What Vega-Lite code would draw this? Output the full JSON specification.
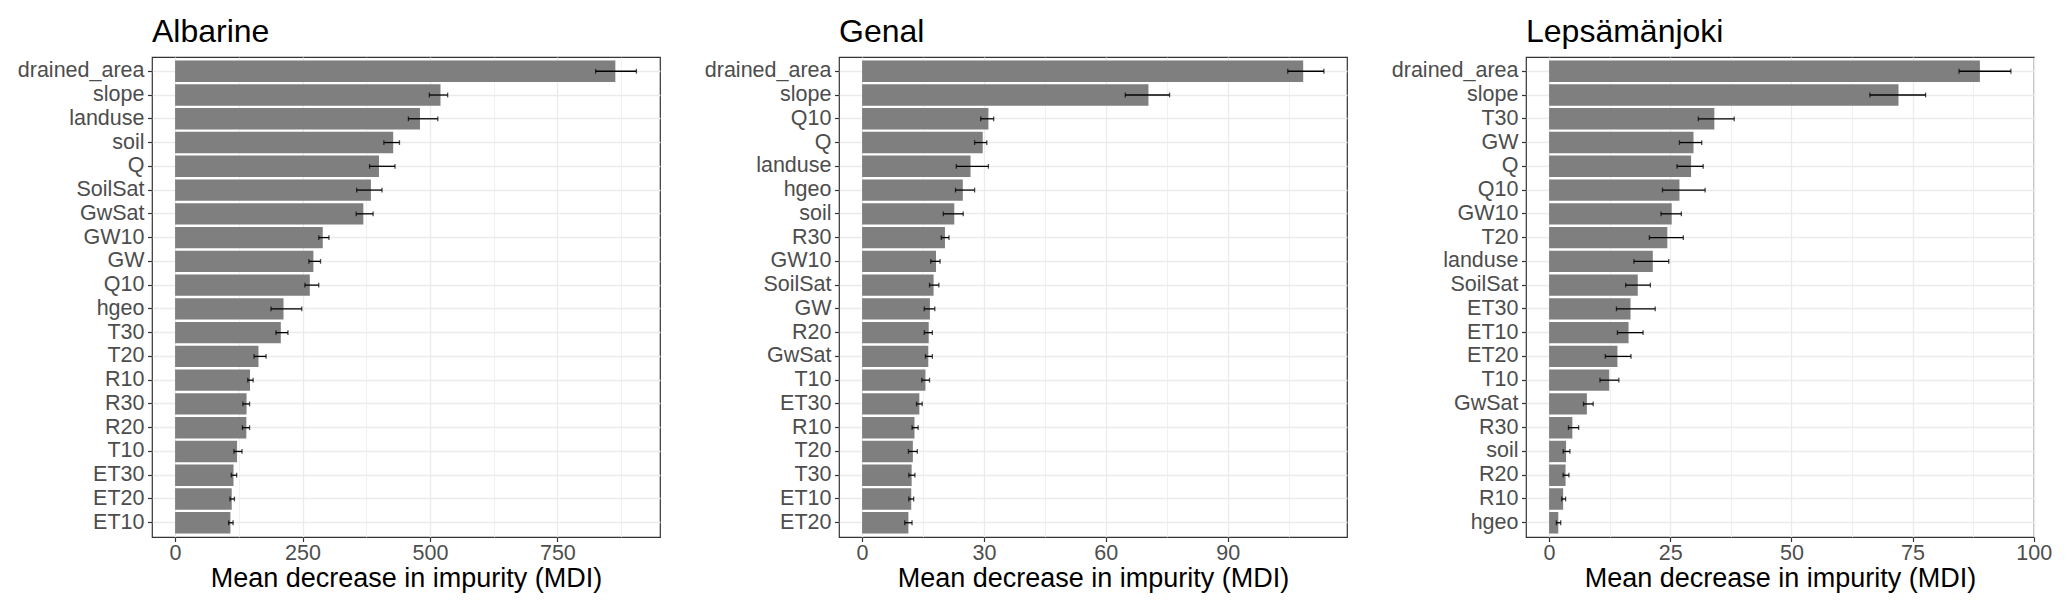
{
  "$schema": "https://vega.github.io/schema/vega-lite/v6.json",
  "background": "white",
  "padding": {"left": 16, "top": 15, "right": 5, "bottom": 5},
  "config": {
    "font": "Liberation Sans",
    "view": {"stroke": "#333333", "strokeWidth": 1.2},
    "axisY": {"title": null, "grid": true, "gridColor": "#EBEBEB", "gridWidth": 1.3, "bandPosition": 0.5, "domain": false, "tickColor": "#333333", "tickSize": 4.5, "tickWidth": 1.2, "labelColor": "#4D4D4D", "labelFontSize": 21.5, "labelPadding": 3.5, "labelLimit": 300},
    "axisX": {"grid": true, "gridColor": "#EBEBEB", "domain": false, "tickColor": "#333333", "tickSize": 4.5, "tickWidth": 1.2, "labelColor": "#4D4D4D", "labelFontSize": 21.5, "labelPadding": 1.3, "titleFontSize": 27, "titleFontWeight": "normal", "titleColor": "black", "titlePadding": 1, "labelOverlap": false, "labelFlush": false},
    "title": {"anchor": "start", "frame": "group", "fontSize": 32, "fontWeight": "normal", "color": "black", "baseline": "alphabetic", "offset": 8}
  },
  "datasets": {
    "mdi": [
      {"site": "Albarine", "var": "drained_area", "mdi": 863.7, "lo": 825, "hi": 905},
      {"site": "Albarine", "var": "slope", "mdi": 520.7, "lo": 498.8, "hi": 534.7},
      {"site": "Albarine", "var": "landuse", "mdi": 480.4, "lo": 457.7, "hi": 515.4},
      {"site": "Albarine", "var": "soil", "mdi": 427.9, "lo": 409.6, "hi": 440.2},
      {"site": "Albarine", "var": "Q", "mdi": 400, "lo": 381.5, "hi": 431.4},
      {"site": "Albarine", "var": "SoilSat", "mdi": 384.2, "lo": 356.2, "hi": 406},
      {"site": "Albarine", "var": "GwSat", "mdi": 369.3, "lo": 355.3, "hi": 388.5},
      {"site": "Albarine", "var": "GW10", "mdi": 289.7, "lo": 281.8, "hi": 301.9},
      {"site": "Albarine", "var": "GW", "mdi": 271.3, "lo": 262.5, "hi": 285.3},
      {"site": "Albarine", "var": "Q10", "mdi": 264.3, "lo": 254.7, "hi": 281.8},
      {"site": "Albarine", "var": "hgeo", "mdi": 212.7, "lo": 188.1, "hi": 248.5},
      {"site": "Albarine", "var": "T30", "mdi": 207.4, "lo": 197.8, "hi": 221.4},
      {"site": "Albarine", "var": "T20", "mdi": 163.6, "lo": 154.9, "hi": 178.5},
      {"site": "Albarine", "var": "R10", "mdi": 147, "lo": 142.6, "hi": 153.1},
      {"site": "Albarine", "var": "R30", "mdi": 140.2, "lo": 133, "hi": 146.1},
      {"site": "Albarine", "var": "R20", "mdi": 139.8, "lo": 132.1, "hi": 146.1},
      {"site": "Albarine", "var": "T10", "mdi": 121.6, "lo": 115.5, "hi": 131.3},
      {"site": "Albarine", "var": "ET30", "mdi": 114.6, "lo": 110.3, "hi": 120.8},
      {"site": "Albarine", "var": "ET20", "mdi": 111.1, "lo": 107.6, "hi": 116.4},
      {"site": "Albarine", "var": "ET10", "mdi": 108.5, "lo": 105, "hi": 113.8},
      {"site": "Genal", "var": "drained_area", "mdi": 108.6, "lo": 104.8, "hi": 113.7},
      {"site": "Genal", "var": "slope", "mdi": 70.5, "lo": 64.8, "hi": 75.7},
      {"site": "Genal", "var": "Q10", "mdi": 31.1, "lo": 29.2, "hi": 32.4},
      {"site": "Genal", "var": "Q", "mdi": 29.7, "lo": 27.7, "hi": 30.7},
      {"site": "Genal", "var": "landuse", "mdi": 26.7, "lo": 23.2, "hi": 31.1},
      {"site": "Genal", "var": "hgeo", "mdi": 24.8, "lo": 23, "hi": 27.7},
      {"site": "Genal", "var": "soil", "mdi": 22.7, "lo": 20, "hi": 24.9},
      {"site": "Genal", "var": "R30", "mdi": 20.4, "lo": 19.5, "hi": 21.4},
      {"site": "Genal", "var": "GW10", "mdi": 18.2, "lo": 16.9, "hi": 19.2},
      {"site": "Genal", "var": "SoilSat", "mdi": 17.6, "lo": 16.6, "hi": 18.9},
      {"site": "Genal", "var": "GW", "mdi": 16.7, "lo": 15.3, "hi": 17.9},
      {"site": "Genal", "var": "R20", "mdi": 16.4, "lo": 15.3, "hi": 17.3},
      {"site": "Genal", "var": "GwSat", "mdi": 16.3, "lo": 15.6, "hi": 17.3},
      {"site": "Genal", "var": "T10", "mdi": 15.6, "lo": 14.7, "hi": 16.6},
      {"site": "Genal", "var": "ET30", "mdi": 14.1, "lo": 13.4, "hi": 14.8},
      {"site": "Genal", "var": "R10", "mdi": 12.9, "lo": 12.3, "hi": 13.8},
      {"site": "Genal", "var": "T20", "mdi": 12.5, "lo": 11.4, "hi": 13.6},
      {"site": "Genal", "var": "T30", "mdi": 12.2, "lo": 11.5, "hi": 13},
      {"site": "Genal", "var": "ET10", "mdi": 12.1, "lo": 11.5, "hi": 12.7},
      {"site": "Genal", "var": "ET20", "mdi": 11.4, "lo": 10.5, "hi": 12.3},
      {"site": "Lepsämänjoki", "var": "drained_area", "mdi": 88.9, "lo": 84.6, "hi": 95.3},
      {"site": "Lepsämänjoki", "var": "slope", "mdi": 72.1, "lo": 66.2, "hi": 77.7},
      {"site": "Lepsämänjoki", "var": "T30", "mdi": 34.1, "lo": 30.8, "hi": 38.2},
      {"site": "Lepsämänjoki", "var": "GW", "mdi": 29.8, "lo": 26.9, "hi": 31.5},
      {"site": "Lepsämänjoki", "var": "Q", "mdi": 29.3, "lo": 26.4, "hi": 31.8},
      {"site": "Lepsämänjoki", "var": "Q10", "mdi": 26.9, "lo": 23.4, "hi": 32.2},
      {"site": "Lepsämänjoki", "var": "GW10", "mdi": 25.3, "lo": 23.1, "hi": 27.3},
      {"site": "Lepsämänjoki", "var": "T20", "mdi": 24.4, "lo": 20.7, "hi": 27.7},
      {"site": "Lepsämänjoki", "var": "landuse", "mdi": 21.4, "lo": 17.5, "hi": 24.7},
      {"site": "Lepsämänjoki", "var": "SoilSat", "mdi": 18.3, "lo": 15.8, "hi": 20.9},
      {"site": "Lepsämänjoki", "var": "ET30", "mdi": 16.8, "lo": 13.9, "hi": 21.9},
      {"site": "Lepsämänjoki", "var": "ET10", "mdi": 16.4, "lo": 14.1, "hi": 19.4},
      {"site": "Lepsämänjoki", "var": "ET20", "mdi": 14.1, "lo": 11.6, "hi": 16.9},
      {"site": "Lepsämänjoki", "var": "T10", "mdi": 12.4, "lo": 10.5, "hi": 14.4},
      {"site": "Lepsämänjoki", "var": "GwSat", "mdi": 7.8, "lo": 7.1, "hi": 9.1},
      {"site": "Lepsämänjoki", "var": "R30", "mdi": 4.8, "lo": 4, "hi": 6.1},
      {"site": "Lepsämänjoki", "var": "soil", "mdi": 3.5, "lo": 2.9, "hi": 4.3},
      {"site": "Lepsämänjoki", "var": "R20", "mdi": 3.4, "lo": 2.9, "hi": 4.1},
      {"site": "Lepsämänjoki", "var": "R10", "mdi": 2.9, "lo": 2.6, "hi": 3.4},
      {"site": "Lepsämänjoki", "var": "hgeo", "mdi": 1.9, "lo": 1.5, "hi": 2.4}
    ]
  },
  "spacing": 179,
  "bounds": "flush",
  "hconcat": [
    {
      "width": 508, "height": 480,
      "title": {"text": "Albarine"},
      "data": {"name": "mdi"},
      "transform": [{"filter": "datum.site === 'Albarine'"}],
      "encoding": {
        "y": {"field": "var", "type": "nominal", "sort": {"field": "mdi", "op": "max", "order": "descending"}, "scale": {"paddingInner": 0.1, "paddingOuter": 0.15}}
      },
      "layer": [
        {"mark": {"type": "bar", "color": "#7f7f7f"},
         "encoding": {"x": {"field": "mdi", "type": "quantitative", "title": "Mean decrease in impurity (MDI)",
           "scale": {"domain": [-45.3, 951.3], "nice": false, "zero": false},
           "axis": {"values": [0, 125, 250, 375, 500, 625, 750, 875],
             "gridWidth": {"condition": {"test": "datum.value % 250 !== 0", "value": 0.7}, "value": 1.3},
             "tickOpacity": {"condition": {"test": "datum.value % 250 !== 0", "value": 0}, "value": 1},
             "labelExpr": "datum.value % 250 === 0 ? datum.label : ''"}}}},
        {"mark": {"type": "rule", "color": "black", "strokeWidth": 1.3},
         "encoding": {"x": {"field": "lo", "type": "quantitative", "title": "Mean decrease in impurity (MDI)"}, "x2": {"field": "hi"}}},
        {"mark": {"type": "tick", "color": "black", "thickness": 1.3, "size": 4.8},
         "encoding": {"x": {"field": "lo", "type": "quantitative", "title": "Mean decrease in impurity (MDI)"}}},
        {"mark": {"type": "tick", "color": "black", "thickness": 1.3, "size": 4.8},
         "encoding": {"x": {"field": "hi", "type": "quantitative", "title": "Mean decrease in impurity (MDI)"}}}
      ]
    },
    {
      "width": 508, "height": 480,
      "title": {"text": "Genal"},
      "data": {"name": "mdi"},
      "transform": [{"filter": "datum.site === 'Genal'"}],
      "encoding": {
        "y": {"field": "var", "type": "nominal", "sort": {"field": "mdi", "op": "max", "order": "descending"}, "scale": {"paddingInner": 0.1, "paddingOuter": 0.15}}
      },
      "layer": [
        {"mark": {"type": "bar", "color": "#7f7f7f"},
         "encoding": {"x": {"field": "mdi", "type": "quantitative", "title": "Mean decrease in impurity (MDI)",
           "scale": {"domain": [-5.685, 119.385], "nice": false, "zero": false},
           "axis": {"values": [0, 15, 30, 45, 60, 75, 90, 105],
             "gridWidth": {"condition": {"test": "datum.value % 30 !== 0", "value": 0.7}, "value": 1.3},
             "tickOpacity": {"condition": {"test": "datum.value % 30 !== 0", "value": 0}, "value": 1},
             "labelExpr": "datum.value % 30 === 0 ? datum.label : ''"}}}},
        {"mark": {"type": "rule", "color": "black", "strokeWidth": 1.3},
         "encoding": {"x": {"field": "lo", "type": "quantitative", "title": "Mean decrease in impurity (MDI)"}, "x2": {"field": "hi"}}},
        {"mark": {"type": "tick", "color": "black", "thickness": 1.3, "size": 4.8},
         "encoding": {"x": {"field": "lo", "type": "quantitative", "title": "Mean decrease in impurity (MDI)"}}},
        {"mark": {"type": "tick", "color": "black", "thickness": 1.3, "size": 4.8},
         "encoding": {"x": {"field": "hi", "type": "quantitative", "title": "Mean decrease in impurity (MDI)"}}}
      ]
    },
    {
      "width": 508, "height": 480,
      "title": {"text": "Lepsämänjoki"},
      "data": {"name": "mdi"},
      "transform": [{"filter": "datum.site === 'Lepsämänjoki'"}],
      "encoding": {
        "y": {"field": "var", "type": "nominal", "sort": {"field": "mdi", "op": "max", "order": "descending"}, "scale": {"paddingInner": 0.1, "paddingOuter": 0.15}}
      },
      "layer": [
        {"mark": {"type": "bar", "color": "#7f7f7f"},
         "encoding": {"x": {"field": "mdi", "type": "quantitative", "title": "Mean decrease in impurity (MDI)",
           "scale": {"domain": [-4.765, 100.065], "nice": false, "zero": false},
           "axis": {"values": [0, 12.5, 25, 37.5, 50, 62.5, 75, 87.5, 100],
             "gridWidth": {"condition": {"test": "datum.value % 25 !== 0", "value": 0.7}, "value": 1.3},
             "tickOpacity": {"condition": {"test": "datum.value % 25 !== 0", "value": 0}, "value": 1},
             "labelExpr": "datum.value % 25 === 0 ? datum.label : ''"}}}},
        {"mark": {"type": "rule", "color": "black", "strokeWidth": 1.3},
         "encoding": {"x": {"field": "lo", "type": "quantitative", "title": "Mean decrease in impurity (MDI)"}, "x2": {"field": "hi"}}},
        {"mark": {"type": "tick", "color": "black", "thickness": 1.3, "size": 4.8},
         "encoding": {"x": {"field": "lo", "type": "quantitative", "title": "Mean decrease in impurity (MDI)"}}},
        {"mark": {"type": "tick", "color": "black", "thickness": 1.3, "size": 4.8},
         "encoding": {"x": {"field": "hi", "type": "quantitative", "title": "Mean decrease in impurity (MDI)"}}}
      ]
    }
  ]
}
